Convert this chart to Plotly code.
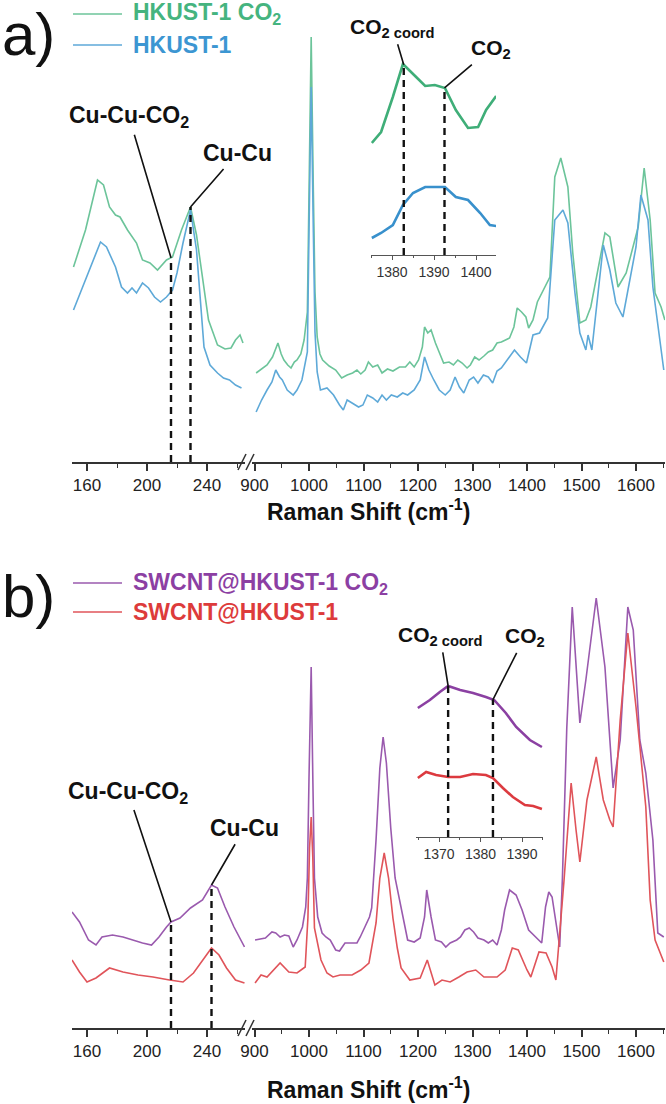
import numpy as np
import plotly.graph_objects as go

# ---- panel a: HKUST-1 (intensity in arbitrary units)
a_lo_x_co2 = [151, 159, 167, 171, 175, 179, 182, 187, 193, 197, 202, 207, 213, 217, 223, 229, 233, 237, 241, 247, 252, 256, 259, 262, 264]
a_lo_co2 = [195, 232, 282, 277, 255, 247, 245, 232, 219, 202, 199, 192, 202, 205, 232, 255, 227, 182, 142, 117, 113, 114, 122, 127, 119]
a_lo_x_bare = [151, 159, 169, 173, 179, 183, 187, 190, 193, 197, 201, 205, 209, 213, 217, 220, 224, 229, 233, 238, 242, 247, 251, 255, 259, 263]
a_lo_bare = [152, 182, 220, 215, 195, 175, 169, 174, 169, 179, 174, 165, 160, 165, 172, 189, 219, 252, 212, 115, 97, 89, 84, 82, 77, 74]

a_hi_x_co2 = [903, 913, 923, 933, 943, 949, 954, 961, 967, 973, 978, 985, 991, 997, 1000, 1004, 1008, 1011, 1015, 1020,
              1025, 1037, 1049, 1060, 1070, 1080, 1088, 1095, 1103, 1109, 1117, 1126, 1134, 1144, 1154, 1166, 1177, 1185, 1193, 1201,
              1208, 1212, 1218, 1224, 1232, 1239, 1247, 1257, 1265, 1273, 1281, 1290, 1296, 1304, 1312, 1321, 1329, 1337, 1345, 1353,
              1360, 1368, 1376, 1382, 1390, 1398, 1403, 1411, 1419, 1430, 1442, 1451, 1462, 1475, 1484, 1497, 1508, 1517, 1534, 1543,
              1552, 1567, 1582, 1595, 1604, 1615, 1626, 1635, 1646, 1653]
a_hi_co2 = [89, 93, 97, 105, 119, 108, 102, 97, 94, 100, 102, 108, 122, 150, 260, 425, 270, 170, 125, 108,
            102, 96, 92, 84, 87, 89, 92, 88, 92, 100, 95, 97, 89, 93, 91, 95, 95, 100, 95, 102,
            115, 135, 129, 132, 119, 110, 99, 100, 97, 102, 99, 94, 97, 105, 102, 106, 110, 112, 119, 120,
            122, 124, 135, 154, 150, 145, 134, 142, 160, 172, 185, 285, 304, 275, 209, 139, 142, 155, 202, 229,
            225, 175, 189, 215, 235, 294, 242, 169, 155, 142]
a_hi_x_bare = [903, 913, 923, 932, 939, 946, 951, 960, 971, 978, 987, 997, 1000, 1004, 1008, 1011, 1015, 1021, 1033, 1045,
               1056, 1063, 1070, 1080, 1091, 1099, 1107, 1117, 1126, 1134, 1142, 1151, 1162, 1172, 1181, 1193, 1204, 1212, 1220, 1229,
               1239, 1250, 1259, 1268, 1276, 1284, 1294, 1302, 1310, 1320, 1329, 1337, 1345, 1353, 1364, 1377, 1388, 1399, 1411, 1423,
               1438, 1451, 1466, 1475, 1488, 1497, 1508, 1512, 1519, 1540, 1552, 1563, 1576, 1589, 1600, 1609, 1622, 1631, 1640, 1648,
               1651]
a_hi_bare = [50, 62, 72, 80, 92, 85, 82, 72, 67, 72, 82, 110, 230, 375, 230, 130, 90, 72, 74, 67,
             57, 52, 62, 59, 55, 57, 67, 64, 60, 67, 62, 67, 65, 69, 67, 72, 82, 105, 92, 82,
             72, 67, 72, 85, 75, 69, 82, 85, 79, 87, 85, 79, 91, 94, 102, 112, 105, 99, 127, 129,
             144, 242, 252, 239, 169, 129, 112, 127, 112, 217, 192, 159, 145, 182, 215, 267, 242, 175, 135, 102,
             92]

ins_a_x_co2 = [1375.2, 1377.4, 1380.2, 1382.6, 1385.5, 1387.9, 1390.2, 1392.6, 1395.2, 1398.1, 1400.5, 1402.4, 1404.8]
ins_a_co2 = [112, 123, 158, 191, 179, 169, 170, 167, 145, 127, 128, 145, 159]
ins_a_x_bare = [1375.2, 1377.4, 1380.2, 1382.6, 1385.0, 1387.9, 1392.6, 1395.2, 1398.1, 1401.0, 1403.3, 1404.8]
ins_a_bare = [17, 22, 30, 50, 62, 68, 68, 58, 55, 42, 30, 29]

# ---- panel b: SWCNT@HKUST-1
b_lo_x_co2 = [150, 155, 161, 166, 170, 177, 184, 190, 197, 203, 208, 213, 216, 222, 229, 237, 243, 247, 252, 258, 265]
b_lo_co2 = [116, 106, 88, 83, 91, 93, 91, 88, 85, 83, 91, 101, 106, 110, 120, 128, 143, 140, 121, 101, 81]
b_lo_x_bare = [150, 155, 160, 166, 175, 184, 194, 204, 215, 224, 231, 237, 243, 248, 253, 259, 265]
b_lo_bare = [68, 56, 46, 50, 60, 56, 53, 51, 48, 46, 55, 68, 80, 73, 60, 48, 45]

b_hi_x_co2 = [901, 920, 932, 939, 947, 955, 963, 971, 978, 988, 994, 997, 1000, 1004, 1007, 1010, 1016, 1024, 1031, 1039,
              1049, 1056, 1066, 1076, 1088, 1094, 1102, 1111, 1115, 1123, 1130, 1136, 1142, 1150, 1158, 1173, 1181, 1193, 1204, 1212,
              1216, 1224, 1232, 1243, 1251, 1259, 1271, 1278, 1286, 1294, 1302, 1310, 1321, 1329, 1337, 1345, 1353, 1359, 1368, 1380,
              1391, 1403, 1415, 1427, 1434, 1440, 1446, 1454, 1460, 1465, 1473, 1483, 1497, 1508, 1527, 1543, 1558, 1571, 1585, 1595,
              1607, 1618, 1631, 1640, 1651]
b_hi_co2 = [88, 90, 96, 95, 91, 93, 92, 81, 88, 101, 121, 150, 250, 361, 250, 150, 111, 95, 91, 88,
            78, 77, 85, 85, 85, 91, 100, 111, 120, 188, 260, 291, 265, 200, 150, 111, 88, 86, 90, 111,
            138, 111, 88, 86, 81, 85, 88, 91, 98, 100, 96, 90, 88, 85, 88, 83, 98, 118, 138, 133,
            118, 98, 91, 85, 121, 136, 131, 105, 81, 150, 300, 421, 305, 348, 430, 361, 240, 288, 421, 398,
            288, 255, 188, 95, 91]
b_hi_x_bare = [901, 912, 923, 947, 963, 978, 993, 998, 1001, 1004, 1007, 1010, 1022, 1033, 1044, 1057, 1079, 1095, 1110, 1123, 1130,
               1138, 1146, 1154, 1162, 1169, 1185, 1204, 1217, 1228, 1231, 1244, 1259, 1275, 1290, 1306, 1321, 1345, 1360, 1373,
               1384, 1400, 1407, 1422, 1435, 1446, 1453, 1468, 1481, 1490, 1497, 1510, 1527, 1540, 1552, 1558, 1571, 1585, 1600,
               1618, 1626, 1635, 1651]
b_hi_bare = [45, 53, 51, 65, 56, 55, 61, 110, 180, 211, 170, 100, 68, 55, 51, 53, 53, 58, 65, 105, 150,
             175, 150, 110, 80, 60, 48, 50, 68, 48, 43, 48, 46, 51, 56, 58, 51, 51, 58, 80,
             78, 58, 51, 76, 75, 61, 48, 148, 245, 198, 166, 228, 271, 228, 208, 201, 308, 395, 321,
             221, 128, 88, 66]

ins_b_x_co2 = [1364.9, 1367.8, 1370.2, 1372.2, 1375.1, 1378.2, 1381.3, 1383.3, 1386.1, 1388.6, 1391.9, 1394.8]
ins_b_co2 = [129, 137, 145, 151, 147, 144, 140, 137, 124, 110, 97, 90]
ins_b_x_bare = [1364.9, 1366.9, 1369.3, 1372.2, 1375.1, 1378.2, 1381.3, 1383.0, 1385.4, 1387.8, 1390.7, 1392.7, 1394.8]
ins_b_bare = [59, 65, 62, 60, 60, 63, 62, 59, 49, 40, 32, 31, 28]

# band positions marked with dashed lines
a_bands = [216, 229]
a_ins_bands = [1382.8, 1392.5]
b_bands = [216, 243]
b_ins_bands = [1372.2, 1383.0]

lo_ticks = [160, 200, 240]
hi_ticks = [900, 1000, 1100, 1200, 1300, 1400, 1500, 1600]

GREEN, BLUE = '#6cc49a', '#5ea9d8'
GREEN_D, BLUE_D = '#3fae78', '#3890cc'
PURPLE, RED = '#9a5aae', '#e0545a'
PURPLE_D, RED_D = '#8b40a2', '#dc3a3f'
FONT = 'Liberation Sans, Arial, sans-serif'

W, H = 666, 1104


def fx(px):
    return px / W


def fy(py):
    return 1 - py / H


def px_range(p0, p1, ref_px, ref_v, scale):
    return [ref_v + (p0 - ref_px) / scale, ref_v + (p1 - ref_px) / scale]


fig = go.Figure()


def line(x, y, xa, ya, color, width=1.6):
    fig.add_trace(go.Scatter(x=x, y=y, xaxis=xa, yaxis=ya, mode='lines',
                             line=dict(color=color, width=width), showlegend=False, hoverinfo='skip'))


# panel a
line(a_lo_x_co2, a_lo_co2, 'x', 'y', GREEN)
line(a_lo_x_bare, a_lo_bare, 'x', 'y', BLUE)
line(a_hi_x_co2, a_hi_co2, 'x2', 'y', GREEN)
line(a_hi_x_bare, a_hi_bare, 'x2', 'y', BLUE)
line(ins_a_x_co2, ins_a_co2, 'x3', 'y3', GREEN_D, 2.6)
line(ins_a_x_bare, ins_a_bare, 'x3', 'y3', BLUE_D, 2.6)
# panel b
line(b_lo_x_co2, b_lo_co2, 'x4', 'y4', PURPLE)
line(b_lo_x_bare, b_lo_bare, 'x4', 'y4', RED)
line(b_hi_x_co2, b_hi_co2, 'x5', 'y4', PURPLE)
line(b_hi_x_bare, b_hi_bare, 'x5', 'y4', RED)
line(ins_b_x_co2, ins_b_co2, 'x6', 'y6', PURPLE_D, 2.6)
line(ins_b_x_bare, ins_b_bare, 'x6', 'y6', RED_D, 2.6)


def main_axis(dom, rng, ticks, minor, anchor):
    return dict(domain=[fx(dom[0]), fx(dom[1])], range=rng, anchor=anchor, automargin=False,
                showline=True, linecolor='#333', linewidth=2, showgrid=False, zeroline=False,
                tickmode='array', tickvals=ticks, ticks='outside', ticklen=7, tickwidth=1.6, tickcolor='#333',
                minor=dict(tickmode='array', tickvals=minor, ticks='outside', ticklen=4, tickwidth=1.4, tickcolor='#333'),
                tickfont=dict(family=FONT, size=17, color='#222'), fixedrange=True)


def inset_axis(dom, rng, ticks, minor, anchor):
    return dict(domain=[fx(dom[0]), fx(dom[1])], range=rng, anchor=anchor, automargin=False,
                showline=True, linecolor='#555', linewidth=1, showgrid=False, zeroline=False,
                tickmode='array', tickvals=ticks, ticks='outside', ticklen=4, tickwidth=1, tickcolor='#555',
                minor=dict(tickmode='array', tickvals=minor, ticks='outside', ticklen=2, tickwidth=1, tickcolor='#555'),
                tickfont=dict(family=FONT, size=14, color='#333'), fixedrange=True)


def hidden_y(dom, rng, anchor):
    return dict(domain=[fy(dom[0]), fy(dom[1])], range=rng, anchor=anchor, visible=False,
                automargin=False, fixedrange=True)


lo_rng = px_range(72, 245, 87, 160, 1.5)
hi_rng = px_range(252, 665, 309, 1000, 0.545)
lo_minor = [180, 220, 260]
hi_minor = [950, 1050, 1150, 1250, 1350, 1450, 1550, 1650]

fig.update_layout(
    width=W, height=H, margin=dict(l=0, r=0, t=0, b=0, pad=0, autoexpand=False),
    paper_bgcolor='white', plot_bgcolor='rgba(0,0,0,0)', showlegend=False,
    xaxis=main_axis((72, 245), lo_rng, lo_ticks, lo_minor, 'y'),
    xaxis2=main_axis((252, 665), hi_rng, hi_ticks, hi_minor, 'y'),
    xaxis3=inset_axis((371, 496), px_range(371, 496, 392, 1380, 4.2), [1380, 1390, 1400], [1375, 1385, 1395], 'y3'),
    xaxis4=main_axis((72, 245), lo_rng, lo_ticks, lo_minor, 'y4'),
    xaxis5=main_axis((252, 665), hi_rng, hi_ticks, hi_minor, 'y4'),
    xaxis6=inset_axis((416, 543), px_range(416, 543, 439, 1370, 4.15), [1370, 1380, 1390], [1365, 1375, 1385, 1395], 'y6'),
    yaxis=hidden_y((462, 22), [0, 440], 'x'),
    yaxis3=hidden_y((255, 55), [0, 200], 'x3'),
    yaxis4=hidden_y((1028, 588), [0, 440], 'x4'),
    yaxis6=hidden_y((837, 637), [0, 200], 'x6'),
)

shapes = []
annos = []


def dashed(xs, xref, yref, cx, cy):
    for b in xs:
        top = float(np.interp(b, cx, cy))
        shapes.append(dict(type='line', xref=xref, yref=yref, x0=b, x1=b, y0=0, y1=top,
                           line=dict(color='#111', width=2.4, dash='7px,5px')))


dashed(a_bands, 'x', 'y', a_lo_x_co2, a_lo_co2)
dashed(a_ins_bands, 'x3', 'y3', ins_a_x_co2, ins_a_co2)
dashed(b_bands, 'x4', 'y4', b_lo_x_co2, b_lo_co2)
dashed(b_ins_bands, 'x6', 'y6', ins_b_x_co2, ins_b_co2)


def pointer(text, xv, cx, cy, xref, yref, ax, ay, size=23):
    annos.append(dict(text=text, x=xv, y=float(np.interp(xv, cx, cy)), xref=xref, yref=yref,
                      ax=ax, ay=ay, showarrow=True, arrowhead=0, arrowwidth=1.6, arrowcolor='#111',
                      standoff=0, startstandoff=2,
                      font=dict(family=FONT, size=size, color='#111'), xanchor='center', yanchor='middle'))


pointer('<b>Cu-Cu-CO<sub>2</sub></b>', a_bands[0], a_lo_x_co2, a_lo_co2, 'x', 'y', -42, -141)
pointer('<b>Cu-Cu</b>', a_bands[1], a_lo_x_co2, a_lo_co2, 'x', 'y', 47, -54)
pointer('<b>CO<sub>2 coord</sub></b>', a_ins_bands[0], ins_a_x_co2, ins_a_co2, 'x3', 'y3', -11, -37, 21)
pointer('<b>CO<sub>2</sub></b>', a_ins_bands[1], ins_a_x_co2, ins_a_co2, 'x3', 'y3', 46, -39, 21)
pointer('<b>Cu-Cu-CO<sub>2</sub></b>', b_bands[0], b_lo_x_co2, b_lo_co2, 'x4', 'y4', -43, -130)
pointer('<b>Cu-Cu</b>', b_bands[1], b_lo_x_co2, b_lo_co2, 'x4', 'y4', 33, -57)
pointer('<b>CO<sub>2 coord</sub></b>', b_ins_bands[0], ins_b_x_co2, ins_b_co2, 'x6', 'y6', -8, -50, 21)
pointer('<b>CO<sub>2</sub></b>', b_ins_bands[1], ins_b_x_co2, ins_b_co2, 'x6', 'y6', 32, -63, 21)

# panel letters, legends and axis titles
for letter, py in (('a)', 34), ('b)', 596)):
    annos.append(dict(text=letter, x=fx(0), y=fy(py), xref='paper', yref='paper', xanchor='left', yanchor='middle',
                      showarrow=False, font=dict(family=FONT, size=60, color='#111')))

legend_rows = [('HKUST-1 CO<sub>2</sub>', GREEN, '#45b47f', 14),
               ('HKUST-1', BLUE, '#3c96d2', 45),
               ('SWCNT@HKUST-1 CO<sub>2</sub>', PURPLE, '#8c3fa3', 583),
               ('SWCNT@HKUST-1', RED, '#dd3b3b', 612)]
for label, lc, tc, py in legend_rows:
    shapes.append(dict(type='line', xref='paper', yref='paper', x0=fx(73), x1=fx(122), y0=fy(py), y1=fy(py),
                       line=dict(color=lc, width=1.6)))
    annos.append(dict(text='<b>%s</b>' % label, x=fx(131), y=fy(py), xref='paper', yref='paper',
                      xanchor='left', yanchor='middle', showarrow=False,
                      font=dict(family=FONT, size=23, color=tc)))

for py in (510, 1088):
    annos.append(dict(text='<b>Raman Shift (cm<sup>-1</sup>)</b>', x=fx(368), y=fy(py), xref='paper', yref='paper',
                      xanchor='center', yanchor='middle', showarrow=False,
                      font=dict(family=FONT, size=23, color='#111')))

# axis break marks
for base in (462, 1028):
    for x0 in (238, 246):
        shapes.append(dict(type='line', xref='paper', yref='paper', x0=fx(x0), x1=fx(x0 + 8),
                           y0=fy(base + 8), y1=fy(base - 8), line=dict(color='#333', width=1.6)))

fig.update_layout(shapes=shapes, annotations=annos)

# the page body has a default margin; drop it so the figure sits at the window origin
fig.write_html("out.html", config={'displayModeBar': False},
               post_script="document.body.style.margin='0';")
